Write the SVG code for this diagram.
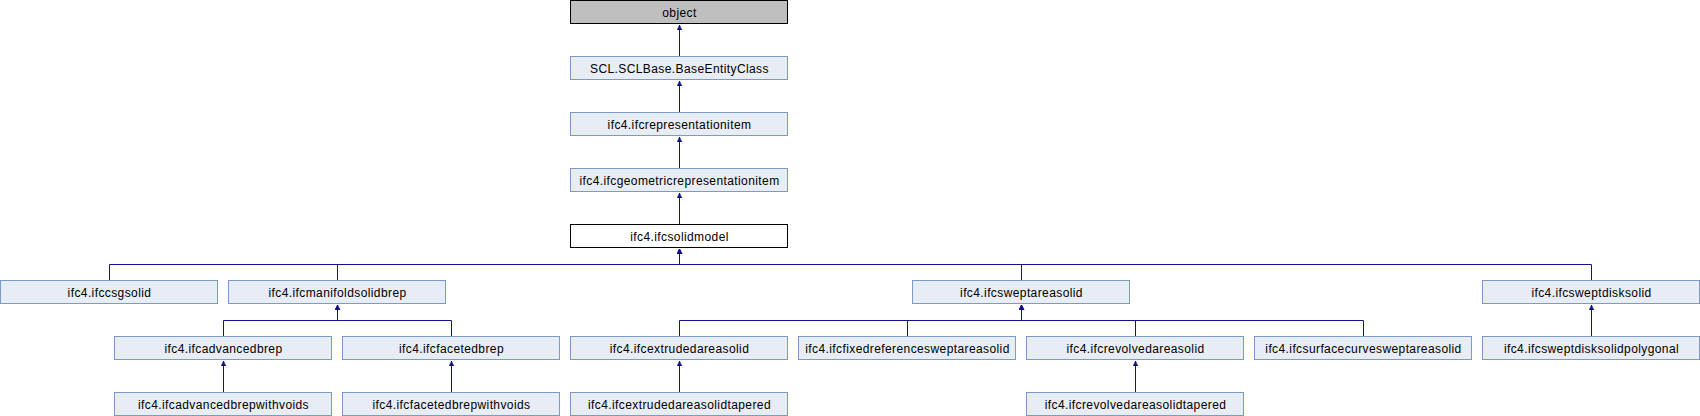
<svg xmlns="http://www.w3.org/2000/svg" width="1700" height="416" viewBox="0 0 1700 416">
<style>
.n rect{fill:#e8ecf4;stroke:#7b9bcb;stroke-width:1}
.n text{font-family:"Liberation Sans",Arial,sans-serif;font-size:12px;letter-spacing:0.4px;text-anchor:middle;fill:#000}
#object rect{fill:#bfbfbf;stroke:#000}
#ifcsolidmodel rect{fill:#fff;stroke:#000}
#edges path{fill:none;stroke:#12128a;stroke-width:1;marker-end:url(#arr)}
</style>
<defs>
<marker id="arr" markerUnits="userSpaceOnUse" markerWidth="6" markerHeight="6" viewBox="0 0 6 6" refX="5" refY="3" orient="auto">
<path d="M0,0.6 L5,3 L0,5.4 Z" fill="#12128a" stroke="#12128a" stroke-width="0.5"/>
</marker>
</defs>
<rect width="1700" height="416" fill="#fff"/>
<g id="edges">
<path d="M679.5,56.5 V25"/>
<path d="M679.5,112.5 V81"/>
<path d="M679.5,168.5 V137"/>
<path d="M679.5,224.5 V193"/>
<path d="M109.5,280.5 V264.5 H679.5 V249"/>
<path d="M337.5,280.5 V264.5 H679.5 V249"/>
<path d="M1021.5,280.5 V264.5 H679.5 V249"/>
<path d="M1591.5,280.5 V264.5 H679.5 V249"/>
<path d="M223.5,336.5 V320.5 H337.5 V305"/>
<path d="M451.5,336.5 V320.5 H337.5 V305"/>
<path d="M679.5,336.5 V320.5 H1021.5 V305"/>
<path d="M907.5,336.5 V320.5 H1021.5 V305"/>
<path d="M1135.5,336.5 V320.5 H1021.5 V305"/>
<path d="M1363.5,336.5 V320.5 H1021.5 V305"/>
<path d="M1591.5,336.5 V305"/>
<path d="M223.5,392.5 V361"/>
<path d="M451.5,392.5 V361"/>
<path d="M679.5,392.5 V361"/>
<path d="M1135.5,392.5 V361"/>
</g>
<g id="object" class="n"><rect x="570.5" y="0.5" width="217" height="23"/><text x="679.5" y="16.5">object</text></g>
<g id="BaseEntityClass" class="n"><rect x="570.5" y="56.5" width="217" height="23"/><text x="679.5" y="72.5">SCL.SCLBase.BaseEntityClass</text></g>
<g id="ifcrepresentationitem" class="n"><rect x="570.5" y="112.5" width="217" height="23"/><text x="679.5" y="128.5">ifc4.ifcrepresentationitem</text></g>
<g id="ifcgeometricrepresentationitem" class="n"><rect x="570.5" y="168.5" width="217" height="23"/><text x="679.5" y="184.5">ifc4.ifcgeometricrepresentationitem</text></g>
<g id="ifcsolidmodel" class="n"><rect x="570.5" y="224.5" width="217" height="23"/><text x="679.5" y="240.5">ifc4.ifcsolidmodel</text></g>
<g id="ifccsgsolid" class="n"><rect x="0.5" y="280.5" width="217" height="23"/><text x="109.5" y="296.5">ifc4.ifccsgsolid</text></g>
<g id="ifcmanifoldsolidbrep" class="n"><rect x="228.5" y="280.5" width="217" height="23"/><text x="337.5" y="296.5">ifc4.ifcmanifoldsolidbrep</text></g>
<g id="ifcsweptareasolid" class="n"><rect x="912.5" y="280.5" width="217" height="23"/><text x="1021.5" y="296.5">ifc4.ifcsweptareasolid</text></g>
<g id="ifcsweptdisksolid" class="n"><rect x="1482.5" y="280.5" width="217" height="23"/><text x="1591.5" y="296.5">ifc4.ifcsweptdisksolid</text></g>
<g id="ifcadvancedbrep" class="n"><rect x="114.5" y="336.5" width="217" height="23"/><text x="223.5" y="352.5">ifc4.ifcadvancedbrep</text></g>
<g id="ifcfacetedbrep" class="n"><rect x="342.5" y="336.5" width="217" height="23"/><text x="451.5" y="352.5">ifc4.ifcfacetedbrep</text></g>
<g id="ifcextrudedareasolid" class="n"><rect x="570.5" y="336.5" width="217" height="23"/><text x="679.5" y="352.5">ifc4.ifcextrudedareasolid</text></g>
<g id="ifcfixedreferencesweptareasolid" class="n"><rect x="798.5" y="336.5" width="217" height="23"/><text x="907.5" y="352.5">ifc4.ifcfixedreferencesweptareasolid</text></g>
<g id="ifcrevolvedareasolid" class="n"><rect x="1026.5" y="336.5" width="217" height="23"/><text x="1135.5" y="352.5">ifc4.ifcrevolvedareasolid</text></g>
<g id="ifcsurfacecurvesweptareasolid" class="n"><rect x="1254.5" y="336.5" width="217" height="23"/><text x="1363.5" y="352.5">ifc4.ifcsurfacecurvesweptareasolid</text></g>
<g id="ifcsweptdisksolidpolygonal" class="n"><rect x="1482.5" y="336.5" width="217" height="23"/><text x="1591.5" y="352.5">ifc4.ifcsweptdisksolidpolygonal</text></g>
<g id="ifcadvancedbrepwithvoids" class="n"><rect x="114.5" y="392.5" width="217" height="23"/><text x="223.5" y="408.5">ifc4.ifcadvancedbrepwithvoids</text></g>
<g id="ifcfacetedbrepwithvoids" class="n"><rect x="342.5" y="392.5" width="217" height="23"/><text x="451.5" y="408.5">ifc4.ifcfacetedbrepwithvoids</text></g>
<g id="ifcextrudedareasolidtapered" class="n"><rect x="570.5" y="392.5" width="217" height="23"/><text x="679.5" y="408.5">ifc4.ifcextrudedareasolidtapered</text></g>
<g id="ifcrevolvedareasolidtapered" class="n"><rect x="1026.5" y="392.5" width="217" height="23"/><text x="1135.5" y="408.5">ifc4.ifcrevolvedareasolidtapered</text></g>
</svg>
